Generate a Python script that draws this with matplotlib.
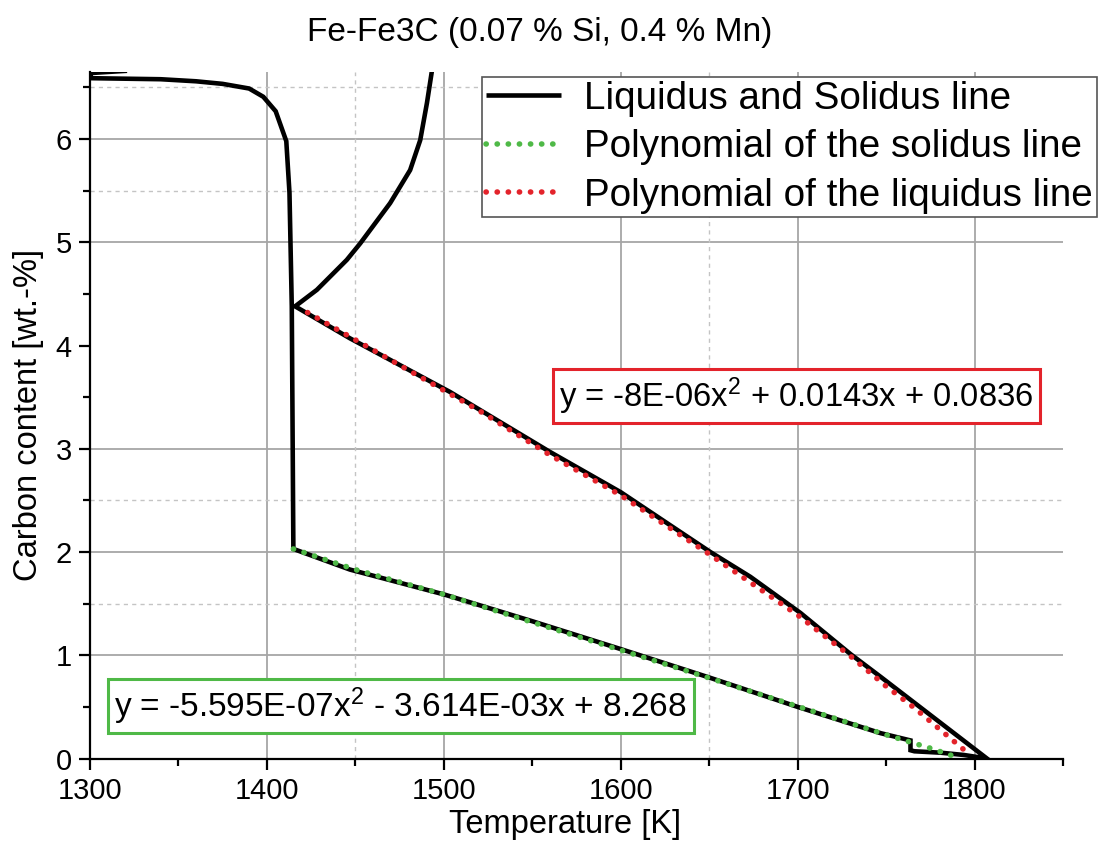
import matplotlib
matplotlib.use("Agg")
import matplotlib.pyplot as plt
from matplotlib.ticker import MultipleLocator

plt.rcParams['font.family'] = ['Liberation Sans', 'DejaVu Sans']
plt.rcParams['mathtext.fontset'] = 'custom'
plt.rcParams['mathtext.rm'] = 'Liberation Sans'
plt.rcParams['mathtext.it'] = 'Liberation Sans:italic'

# Phase boundary trace (temperature in K, carbon in wt.-%):
# eutectic branch -> solidus -> liquidus -> cementite liquidus
trace_T = [1321, 1300.5, 1300.5, 1340, 1360, 1375, 1390, 1398, 1405, 1411, 1412.8,
           1414.1, 1415, 1447, 1500, 1550, 1600, 1650, 1700, 1747, 1763.8, 1763.8,
           1766, 1781, 1794, 1807,
           1747, 1730, 1701.6, 1673.3, 1650.7, 1626.2,
           1600, 1560, 1503.6, 1447, 1416,
           1428.3, 1445.2, 1452.8, 1469.7, 1481, 1486.7, 1490.5, 1493.3]
trace_C = [6.662, 6.64, 6.59, 6.58, 6.56, 6.535, 6.49, 6.41, 6.27, 5.98, 5.48,
           4.38, 2.03, 1.83, 1.59, 1.33, 1.06, 0.785, 0.50, 0.245, 0.175, 0.08,
           0.07, 0.056, 0.034, 0.0,
           0.79, 1.01, 1.41, 1.76, 2.00, 2.28,
           2.58, 2.97, 3.55, 4.07, 4.38,
           4.54, 4.83, 4.99, 5.38, 5.70, 5.99, 6.35, 6.66]

# Quadratic trend of the solidus
sol_fit_T = [1415, 1450, 1500, 1550, 1600, 1650, 1700, 1750, 1775, 1792]
sol_fit_C = [2.03, 1.83, 1.59, 1.32, 1.05, 0.78, 0.505, 0.23, 0.10, 0.0]

# Quadratic trend of the liquidus
liq_fit_T = [1423, 1470, 1520, 1560, 1600, 1650, 1700, 1730, 1750, 1766, 1796]
liq_fit_C = [4.32, 3.86, 3.37, 2.94, 2.55, 1.98, 1.39, 0.99, 0.70, 0.49, 0.056]

title = "Fe-Fe3C (0.07 % Si, 0.4 % Mn)"
series_labels = ["Liquidus and Solidus line",
                 "Polynomial of the solidus line",
                 "Polynomial of the liquidus line"]
eq_solidus = "y = -5.595E-07x$^{2}$ - 3.614E-03x + 8.268"
eq_liquidus = "y = -8E-06x$^{2}$ + 0.0143x + 0.0836"

GREEN = '#4fb947'
RED = '#e3232b'

W, H = 1099, 841
fig = plt.figure(figsize=(W / 100, H / 100), dpi=100)
ax = fig.add_axes([89.9 / W, 1 - 758.5 / H, (1063 - 89.9) / W, (758.5 - 72) / H])

ax.set_xlim(1300, 1850)
ax.set_ylim(0, 6.65)

# grid
for yv in [1, 2, 3, 5, 6]:
    ax.axhline(yv, color='#a6a6a6', lw=1.3, zorder=0)
for xv in [1400, 1500, 1600, 1700, 1800]:
    ax.axvline(xv, color='#a6a6a6', lw=1.3, zorder=0)
for yv in [1.5, 2.5, 5.5, 6.5]:
    ax.axhline(yv, color='#c4c4c4', lw=1.0, ls=(0, (3, 3)), zorder=0)
for xv in [1450, 1650]:
    ax.axvline(xv, color='#c4c4c4', lw=1.0, ls=(0, (3, 3)), zorder=0)

l_trace, = ax.plot(trace_T, trace_C, color='black', lw=3.3,
                   solid_joinstyle='miter', solid_capstyle='butt', zorder=3)
l_sol, = ax.plot(sol_fit_T, sol_fit_C, color=GREEN, lw=4.0,
                 ls=(0, (0.05, 1.95)), dash_capstyle='round', zorder=4)
l_liq, = ax.plot(liq_fit_T, liq_fit_C, color=RED, lw=4.0,
                 ls=(0, (0.05, 1.95)), dash_capstyle='round', zorder=5)

for s in ['top', 'right']:
    ax.spines[s].set_visible(False)
for s in ['left', 'bottom']:
    ax.spines[s].set_linewidth(1.6)

ax.xaxis.set_major_locator(MultipleLocator(100))
ax.xaxis.set_minor_locator(MultipleLocator(50))
ax.yaxis.set_major_locator(MultipleLocator(1))
ax.yaxis.set_minor_locator(MultipleLocator(0.5))
ax.tick_params(which='major', length=8, width=1.6, direction='out',
               labelsize=21, pad=5)
ax.tick_params(which='minor', length=5, width=1.6, direction='out')

fig.text(540 / W, 1 - 33 / H, title, ha='center', va='center', fontsize=24)
fig.text(565 / W, 1 - 833 / H, "Temperature [K]", ha='center',
         va='baseline', fontsize=23.5)
fig.text(29 / W, 1 - 415 / H, "Carbon content [wt.-%]", ha='center',
         va='center', rotation=90, fontsize=23.5)

leg = ax.legend([l_trace, l_sol, l_liq], series_labels, loc='upper left',
                bbox_to_anchor=(482 / W, 1 - 77 / H),
                bbox_transform=fig.transFigure, fontsize=27.8, frameon=True,
                fancybox=False, framealpha=1, edgecolor='#555555',
                borderpad=0.1, borderaxespad=0, handlelength=1.94,
                handletextpad=0.6, labelspacing=0.32)
leg.get_frame().set_linewidth(1.2)
leg.set_zorder(10)

fig.text(400.7 / W, 1 - 706 / H, eq_solidus, ha='center', va='center',
         fontsize=24, zorder=10,
         bbox=dict(boxstyle='square,pad=0.2', fc='white', ec=GREEN, lw=2.2))
fig.text(796.5 / W, 1 - 396 / H, eq_liquidus, ha='center', va='center',
         fontsize=23.6, zorder=10,
         bbox=dict(boxstyle='square,pad=0.2', fc='white', ec=RED, lw=2.2))

fig.savefig('out.png', dpi=100)
